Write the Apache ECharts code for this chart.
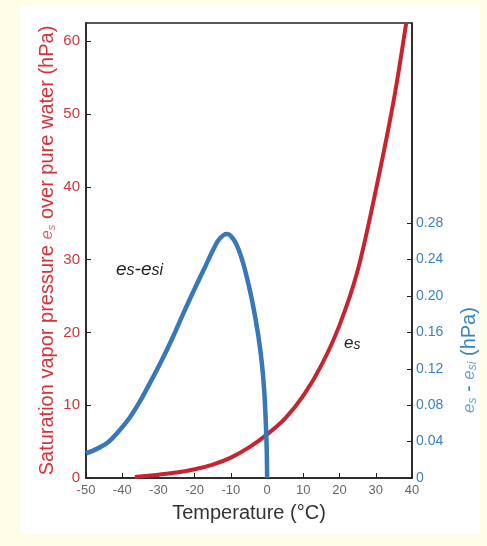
<!DOCTYPE html>
<html>
<head>
<meta charset="utf-8">
<script src="https://cdn.jsdelivr.net/npm/echarts@6/dist/echarts.min.js"></script>
<style>
  html, body { margin: 0; padding: 0; background: #fefde8; width: 487px; height: 546px; overflow: hidden; }
  #panel { position: absolute; left: 20px; top: 5px; width: 460px; height: 528px; background: #ffffff; }
</style>
</head>
<body>
<div id="panel"></div>
<script>
// Temperature axis
const xTicks = [-50, -40, -30, -20, -10, 0, 10, 20, 30, 40];
// Right axis tick values (hPa)
const rightTicks = [0, 0.04, 0.08, 0.12, 0.16, 0.20, 0.24, 0.28];

// Saturation vapour pressure over water, es (hPa)
const tempEs = [-36.5, -33, -30, -25, -20, -15, -10, -5, 0, 5, 10, 15, 20, 25, 30, 35, 38.4];
const esVals = [0.15, 0.3, 0.45, 0.75, 1.2, 1.85, 2.8, 4.2, 6.0, 8.2, 11.3, 15.5, 21.0, 28.5, 39.5, 52, 62.5];

// es - esi (hPa)
const tempDiff = [-50, -47, -44, -41.5, -38, -35, -32, -29, -26, -23, -20, -17, -15, -13.5, -12, -11, -10, -8.5, -7, -5.5, -4, -2.5, -1.5, -0.8, -0.35, -0.1, 0];
const diffVals = [0.027, 0.032, 0.039, 0.049, 0.066, 0.085, 0.107, 0.130, 0.155, 0.182, 0.208, 0.233, 0.250, 0.261, 0.267, 0.268, 0.266, 0.257, 0.241, 0.219, 0.192, 0.158, 0.128, 0.096, 0.060, 0.030, 0];

const RED_LINE = '#c8232e';
const RED_TEXT = '#d2343c';
const BLUE_LINE = '#3877b9';
const BLUE_TEXT = '#3b82c4';
const FONT = 'Liberation Sans, Arial, sans-serif';

const chart = echarts.init(document.getElementById('panel'), null, { renderer: 'canvas' });

const option = {
  animation: false,
  textStyle: { fontFamily: FONT },
  grid: {
    left: 66, right: 68, top: 18, bottom: 55,
    show: true, borderColor: '#222', borderWidth: 1.5, backgroundColor: 'transparent'
  },
  xAxis: {
    type: 'value', min: -50, max: 40, interval: 10,
    axisLine: { show: true, onZero: false, lineStyle: { color: '#222', width: 1.5 } },
    axisTick: { inside: true, length: 5, lineStyle: { color: '#222' }, customValues: xTicks },
    axisLabel: { color: '#666', fontSize: 13, margin: 6, fontFamily: FONT, customValues: xTicks },
    splitLine: { show: false },
    name: 'Temperature (°C)', nameLocation: 'middle', nameGap: 25, nameMoveOverlap: false,
    nameTextStyle: { color: '#333', fontSize: 20, fontFamily: FONT }
  },
  yAxis: [
    {
      type: 'value', position: 'left', min: 0, max: 62.5, interval: 10,
      axisLine: { show: true, onZero: false, lineStyle: { color: '#222', width: 1.5 } },
      axisTick: { inside: true, length: 5, lineStyle: { color: '#222' } },
      axisLabel: { color: RED_TEXT, fontSize: 15, margin: 6, fontFamily: FONT, showMaxLabel: false },
      splitLine: { show: false },
      name: '{a|Saturation vapor pressure }{i|e}{s|s}{a| over pure water (hPa)}',
      nameLocation: 'middle', nameGap: 29, nameRotate: 90, nameMoveOverlap: false,
      nameTextStyle: {
        color: RED_TEXT, fontSize: 20, fontFamily: FONT,
        rich: {
          a: { color: RED_TEXT, fontSize: 20, fontFamily: FONT },
          i: { color: '#dd6a70', fontSize: 17, fontStyle: 'italic', fontFamily: FONT },
          s: { color: '#dd6a70', fontSize: 11, fontStyle: 'italic', fontFamily: FONT, verticalAlign: 'bottom' }
        }
      }
    },
    {
      type: 'value', position: 'right', min: 0, max: 0.5,
      axisLine: { show: true, onZero: false, lineStyle: { color: '#222', width: 1.5 } },
      axisTick: { inside: true, length: 5, lineStyle: { color: '#222' }, customValues: rightTicks },
      axisLabel: {
        color: BLUE_TEXT, fontSize: 14, margin: 4, fontFamily: FONT, customValues: rightTicks,
        formatter: v => (v === 0 ? '0' : v.toFixed(2))
      },
      splitLine: { show: false }
    }
  ],
  graphic: [
    {
      type: 'text', left: 96, top: 255,
      style: {
        text: '{i|e}{s|s}{i|-e}{s|si}',
        rich: {
          i: { fontSize: 19, fontStyle: 'italic', fill: '#222', fontFamily: FONT },
          s: { fontSize: 16, fontStyle: 'italic', fill: '#222', fontFamily: FONT, verticalAlign: 'bottom' }
        }
      }
    },
    {
      type: 'text', left: 324, top: 330,
      style: {
        text: '{i|e}{s|s}',
        rich: {
          i: { fontSize: 17, fontStyle: 'italic', fill: '#222', fontFamily: FONT },
          s: { fontSize: 14, fontStyle: 'italic', fill: '#222', fontFamily: FONT, verticalAlign: 'bottom' }
        }
      }
    },
    {
      type: 'text', x: 449, y: 355, rotation: Math.PI / 2,
      style: {
        text: '{i|e}{s|s}{a| - }{i|e}{s|si}{a| (hPa)}',
        align: 'center', verticalAlign: 'middle',
        rich: {
          a: { fontSize: 20, fill: BLUE_TEXT, fontFamily: FONT },
          i: { fontSize: 17, fontStyle: 'italic', fill: '#6fa3d3', fontFamily: FONT },
          s: { fontSize: 12, fontStyle: 'italic', fill: '#6fa3d3', fontFamily: FONT, verticalAlign: 'bottom' }
        }
      }
    }
  ],
  series: [
    {
      type: 'line', yAxisIndex: 0, showSymbol: false, smooth: 0.3,
      lineStyle: { color: RED_LINE, width: 4 }, clip: true,
      data: tempEs.map((t, i) => [t, esVals[i]])
    },
    {
      type: 'line', yAxisIndex: 1, showSymbol: false, smooth: 0.3,
      lineStyle: { color: BLUE_LINE, width: 4.5 }, clip: true,
      data: tempDiff.map((t, i) => [t, diffVals[i]])
    }
  ]
};
chart.setOption(option);
</script>
</body>
</html>
